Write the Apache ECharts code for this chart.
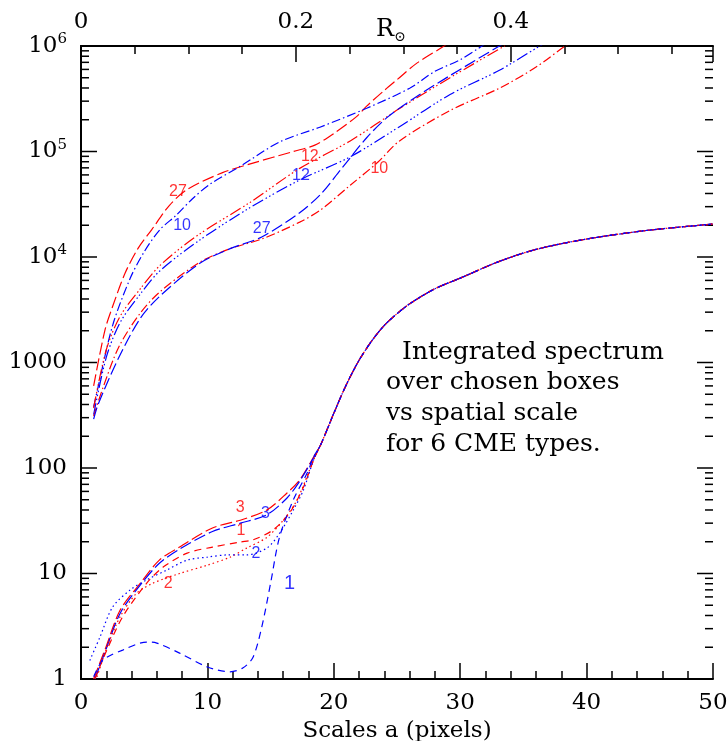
<!DOCTYPE html>
<html><head><meta charset="utf-8">
<script src="https://cdn.jsdelivr.net/npm/echarts@6/dist/echarts.min.js"></script>
<style>html,body{margin:0;padding:0;background:#fff}#c{width:727px;height:741px}</style>
</head><body><div id="c"></div>
<script>
// ---------------- DATA ----------------
// Lower group (CME types 1, 2, 3): curves merge after x ~ 18.5
const tailX = [19, 20, 21, 22, 23, 24, 25, 26, 28, 30, 33, 36, 40, 45, 50];
const tailY = [170, 330, 620, 1050, 1600, 2250, 2900, 3600, 5000, 6300, 9000, 11800, 14800, 18000, 20500];

const red3X  = [1, 1.9, 3.1, 4.7, 6.2, 7.8, 10.4, 12.6, 14.7, 16.3, 17.3, 18.4];
const red3Y  = [1.0, 1.9, 4.5, 8.1, 13.4, 17.8, 27, 32, 40, 58, 77, 127];
const blue3X = [1.1, 1.9, 3.1, 4.7, 6.2, 7.8, 10.4, 12.6, 14.7, 16.3, 17.3, 18.4];
const blue3Y = [1.0, 1.8, 4.2, 7.8, 12.5, 17, 25, 30, 36, 52, 75, 125];
const red1X  = [1.1, 2.06, 3.3, 5.2, 6.5, 8.4, 10.4, 12.6, 13.6, 15.2, 16.5, 17.6, 18.4];
const red1Y  = [1.0, 1.9, 3.9, 8.1, 11.5, 15.6, 17.8, 19.9, 20.8, 25.9, 37.5, 66, 119];
const blue1X = [1, 1.74, 3.3, 5.2, 6.0, 7.8, 10, 11.8, 12.8, 13.6, 14.3, 15, 15.7, 16.8, 17.9, 18.4];
const blue1Y = [1.05, 1.51, 1.88, 2.24, 2.19, 1.76, 1.3, 1.17, 1.27, 1.6, 3.1, 8.1, 22, 50, 90, 127];
const blue2X = [0.7, 1.5, 2.5, 3.9, 5.2, 6.8, 8.4, 10, 11.6, 13.1, 14.7, 15.7, 16.8, 17.6, 18.4];
const blue2Y = [1.5, 2.5, 4.8, 7, 8.7, 10.8, 13.4, 14.3, 15, 15, 17.4, 24, 40, 62, 119];
const red2X  = [1.27, 2.06, 3.1, 4.4, 5.7, 7.8, 10, 11.8, 13.1, 14.7, 16, 17.1, 18.4];
const red2Y  = [1.05, 2.0, 3.9, 6.5, 8.1, 10, 12, 14.3, 17.4, 22, 32, 50, 119];

// Upper group (CME types 10, 12, 27)
const red27X  = [1, 1.9, 2.5, 3.5, 4.5, 5.6, 7, 8.4, 11.2, 13.6, 16.8, 18.5, 20, 21.8, 22.6, 24, 25, 26.6, 28.6, 29.2];
const red27Y  = [600, 2040, 3390, 7080, 12000, 18200, 30900, 43600, 63100, 77600, 100000, 115000, 148000, 214000, 269000, 380000, 479000, 692000, 977000, 1100000];
const blue10X = [1, 1.3, 2.5, 3.9, 5, 6.25, 7.57, 8.8, 10.2, 12.6, 15.7, 18.9, 22.6, 26, 28, 30, 31.6, 32.3];
const blue10Y = [380, 550, 2240, 6310, 11200, 18200, 25100, 35500, 49000, 72400, 123000, 170000, 257000, 398000, 575000, 741000, 977000, 1120000];
const red12X  = [1, 2, 3.1, 4.7, 6.25, 9.15, 13.4, 17.3, 21.3, 25.2, 29.2, 33.5, 34.2];
const red12Y  = [370, 1320, 2750, 5010, 8320, 15800, 33100, 69200, 126000, 255000, 501000, 1000000, 1120000];
const blue12X = [1, 2, 3.1, 4.7, 6.25, 9.4, 13.4, 17.3, 21.3, 25.2, 29.2, 33.1, 36.3, 37];
const blue12Y = [320, 1120, 2400, 4470, 7410, 14500, 29500, 53700, 89000, 172000, 347000, 589000, 1000000, 1120000];
const red10X  = [1, 1.7, 3, 4.7, 6.25, 9.4, 11.8, 14.3, 17.3, 19, 21.3, 23.5, 25.2, 29.2, 33.1, 36, 38.3, 39];
const red10Y  = [310, 560, 1410, 2950, 4680, 8910, 12000, 14800, 21400, 28200, 47900, 79400, 126000, 245000, 398000, 631000, 1000000, 1120000];
const blue27X = [1, 1.35, 3, 4.7, 6.25, 9.4, 11.8, 14.3, 17.3, 19, 20.5, 22.6, 24.3, 26.8, 29.2, 33.1, 33.8];
const blue27Y = [290, 400, 1120, 2630, 4270, 8710, 12000, 15500, 26300, 39800, 66100, 135000, 214000, 347000, 525000, 1000000, 1120000];

// Curve labels (text, x, flux, colour)
const labelText  = ['27', '10', '27', '12', '12', '10', '3', '3', '1', '2', '2', '1'];
const labelX     = [7.67, 8.0, 14.3, 18.1, 17.4, 23.6, 12.6, 14.6, 12.66, 13.85, 6.9, 16.5];
const labelY     = [41300, 19700, 18400, 88700, 58600, 69000, 41.8, 36.6, 25.3, 15.6, 7.95, 8.13];
const labelColor = ['red', 'blue', 'blue', 'red', 'blue', 'red', 'red', 'blue', 'red', 'blue', 'red', 'blue'];

// Axis ticks
const xTicks = [0, 10, 20, 30, 40, 50];
const yMajor = [1, 10, 100, 1000, 1e4, 1e5, 1e6];
const yMinorMult = [2, 3, 4, 5, 6, 7, 8, 9];
const rTickLabels = [0, 0.2, 0.4];
const noteLines = ['Integrated spectrum', 'over chosen boxes', 'vs spatial scale', 'for 6 CME types.'];

// ---------------- CHART ----------------
const SERIF = '"DejaVu Serif", serif';
const SANS = '"Liberation Sans", Arial, sans-serif';
const RED = '#ff0000', BLUE = '#0000ff';
const STY = {
  longdash: [12, 4],
  dash: [7, 5],
  dashdot: [9, 3, 1.5, 3],
  dash3dot: [12, 3, 1.5, 2.5, 1.5, 2.5, 1.5, 3],
  dot: [1.5, 3]
};
function pairs(xs, ys) { return xs.map((x, i) => [x, ys[i]]); }
function withTail(xs, ys) { return pairs(xs, ys).concat(pairs(tailX, tailY)); }
function line(name, data, color, dash) {
  return {
    name, type: 'line', data, symbol: 'none', smooth: 0.3,
    clip: true, silent: true,
    lineStyle: { color, width: 1.2, type: dash }
  };
}
const series = [
  line('red27', pairs(red27X, red27Y), RED, STY.longdash),
  line('blue10', pairs(blue10X, blue10Y), BLUE, STY.dashdot),
  line('red12', pairs(red12X, red12Y), RED, STY.dash3dot),
  line('blue12', pairs(blue12X, blue12Y), BLUE, STY.dash3dot),
  line('red10', pairs(red10X, red10Y), RED, STY.dashdot),
  line('blue27', pairs(blue27X, blue27Y), BLUE, STY.longdash),
  line('red3', withTail(red3X, red3Y), RED, STY.longdash),
  line('blue3', withTail(blue3X, blue3Y), BLUE, STY.longdash),
  line('red1', withTail(red1X, red1Y), RED, STY.dash),
  line('blue1', withTail(blue1X, blue1Y), BLUE, STY.dash),
  line('red2', withTail(red2X, red2Y), RED, STY.dot),
  line('blue2', withTail(blue2X, blue2Y), BLUE, STY.dot),
  {
    type: 'scatter', symbolSize: 0, silent: true,
    data: labelText.map((t, i) => ({
      name: t, value: [labelX[i], labelY[i]],
      label: { show: true, position: 'inside', formatter: t, color: labelColor[i] === 'red' ? RED : BLUE,
               fontFamily: SANS, fontSize: (t === '1' && labelColor[i] === 'blue') ? 20 : 16 }
    }))
  }
];

const axisLineStyle = { color: '#000', width: 2 };
const tickStyle = { color: '#000', width: 1.5 };
const labelFont = { color: '#000', fontFamily: SERIF, fontSize: 23 };
const rMax = 50 / 17 * 0.2;

const option = {
  animation: false,
  backgroundColor: '#fff',
  grid: { left: 81, right: 14, top: 46, bottom: 62, containLabel: false, outerBoundsMode: 'none' },
  xAxis: [
    {
      type: 'value', position: 'bottom', min: 0, max: 50, interval: 10,
      axisLine: { show: true, lineStyle: axisLineStyle },
      axisTick: { show: true, inside: true, length: 16, lineStyle: tickStyle },
      minorTick: { show: true, splitNumber: 5, length: 8, lineStyle: tickStyle },
      splitLine: { show: false }, minorSplitLine: { show: false },
      axisLabel: Object.assign({ margin: 13, formatter: v => xTicks.includes(v) ? String(v) : '' }, labelFont),
      name: 'Scales a (pixels)', nameLocation: 'middle', nameGap: 28,
      nameTextStyle: { color: '#000', fontFamily: SERIF, fontSize: 23, verticalAlign: 'top' }
    },
    {
      type: 'value', position: 'top', min: 0, max: rMax, interval: 0.05,
      axisLine: { show: true, lineStyle: axisLineStyle },
      axisTick: { show: true, inside: true, length: 8, lineStyle: tickStyle },
      splitLine: { show: false },
      axisLabel: Object.assign({
        margin: 12, showMaxLabel: false,
        formatter: v => rTickLabels.some(t => Math.abs(t - v) < 1e-6) ? (v === 0 ? '0' : v.toFixed(1)) : ''
      }, labelFont)
    },
    {
      type: 'value', position: 'top', min: 0, max: rMax, interval: 0.2,
      axisLine: { show: false },
      axisTick: { show: true, inside: true, length: 16, lineStyle: tickStyle },
      splitLine: { show: false }, axisLabel: { show: false }
    }
  ],
  yAxis: [
    {
      type: 'log', logBase: 10, position: 'left', min: 1, max: 1e6,
      axisLine: { show: true, lineStyle: axisLineStyle },
      axisTick: { show: false },
      splitLine: { show: false },
      axisLabel: Object.assign({
        margin: 14,
        formatter: v => {
          const e = Math.round(Math.log10(v));
          return e >= 4 ? '10{sup|' + e + '}' : String(Math.round(v));
        },
        rich: { sup: { fontFamily: SERIF, fontSize: 15, color: '#000', padding: [0, 0, 13, 0] } }
      }, labelFont),
      name: 'Flux', nameLocation: 'middle', nameGap: 46,
      nameTextStyle: { color: '#000', fontFamily: SERIF, fontSize: 23 }
    },
    {
      type: 'log', logBase: 10, position: 'right', min: 1, max: 1e6,
      axisLine: { show: true, lineStyle: axisLineStyle },
      axisTick: { show: false },
      splitLine: { show: false }, axisLabel: { show: false }
    }
  ],
  series
};

const chart = echarts.init(document.getElementById('c'), null, { renderer: 'canvas' });
chart.setOption(option);

// y ticks (decades + 2..9 minor) placed through the axis scale, inside on both sides
const xl = chart.convertToPixel({ xAxisIndex: 0 }, 0);
const xr = chart.convertToPixel({ xAxisIndex: 0 }, 50);
const els = [];
function tick(y, len) {
  els.push({ type: 'line', silent: true, shape: { x1: xl, y1: y, x2: xl + len, y2: y }, style: { stroke: '#000', lineWidth: 1.5 } });
  els.push({ type: 'line', silent: true, shape: { x1: xr - len, y1: y, x2: xr, y2: y }, style: { stroke: '#000', lineWidth: 1.5 } });
}
yMajor.forEach((v, d) => {
  tick(chart.convertToPixel({ yAxisIndex: 0 }, v), 16);
  if (d < yMajor.length - 1) yMinorMult.forEach(k => tick(chart.convertToPixel({ yAxisIndex: 0 }, k * v), 8));
});
// top axis name R_sun
els.push({ type: 'text', silent: true, style: {
  text: 'R{s|⊙}', x: 376, y: 30, fill: '#000', font: '24px "DejaVu Serif", serif',
  textVerticalAlign: 'middle', textAlign: 'left',
  rich: { s: { fontSize: 14, fontFamily: SERIF, fill: '#000', padding: [14, 0, 0, 0] } } } });
const noteX = [402, 386, 386, 386];
const noteY = [352, 382, 413, 444];
noteLines.forEach((t, i) => {
  els.push({ type: 'text', silent: true, style: { text: t, x: noteX[i], y: noteY[i], fill: '#000',
    font: '25px "DejaVu Serif", serif', textVerticalAlign: 'middle', textAlign: 'left' } });
});
chart.setOption({ graphic: els });
</script>
</body></html>
